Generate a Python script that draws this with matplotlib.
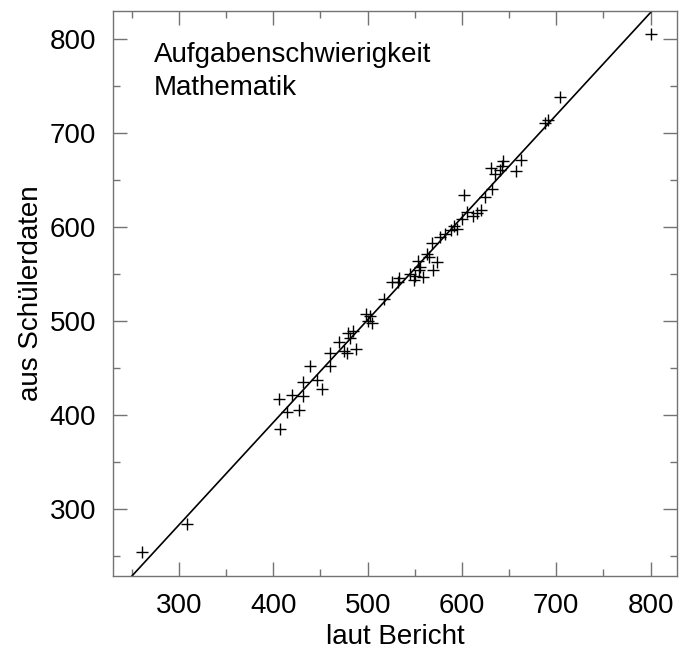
"""Aufgabenschwierigkeit Mathematik: Bericht vs. Schuelerdaten."""

import matplotlib

matplotlib.use("Agg")
import matplotlib.pyplot as plt
import numpy as np
from matplotlib.ticker import MultipleLocator

plt.rcParams["font.family"] = ["Liberation Sans", "DejaVu Sans"]

# item difficulty as reported (x) and as re-estimated from student data (y)
laut_bericht = [
    261, 309, 406, 407, 414, 420, 427, 432, 431, 439, 446, 452, 460, 460,
    470, 475, 478, 488, 479, 484, 481, 498, 500, 503, 505, 517, 526, 533,
    532, 545, 549, 550, 555, 553, 559, 556, 563, 565, 569, 574, 568, 577,
    582, 588, 592, 595, 600, 602, 605, 612, 616, 620, 624, 632, 635, 631,
    640, 644, 642, 657, 663, 688, 691, 704, 801,
]
aus_schuelerdaten = [
    255, 284, 417, 385, 403, 421, 405, 420, 435, 452, 437, 428, 452, 466,
    478, 468, 466, 470, 487, 489, 482, 508, 500, 505, 498, 523, 541, 546,
    541, 550, 544, 548, 554, 564, 547, 557, 571, 568, 554, 563, 583, 589,
    593, 597, 601, 598, 608, 634, 616, 612, 615, 618, 632, 640, 656, 663,
    661, 670, 665, 659, 671, 711, 714, 738, 805,
]

# fitted regression line
slope = 1.089
intercept = -43.3
line_x = [250, 801]

fig = plt.figure(figsize=(6.79, 6.50), dpi=100)
ax = fig.add_axes([0.1664, 0.1138, 0.8306, 0.8700])

ax.plot(laut_bericht, aus_schuelerdaten, "+", color="black", ms=8.5, mew=1.0)
lx = np.array(line_x, dtype=float)
ax.plot(lx, slope * lx + intercept, color="black", lw=1.2)

ax.set_xlim(230, 828)
ax.set_ylim(229, 830)
ax.xaxis.set_major_locator(MultipleLocator(100))
ax.yaxis.set_major_locator(MultipleLocator(100))
ax.xaxis.set_minor_locator(MultipleLocator(50))
ax.yaxis.set_minor_locator(MultipleLocator(50))
ax.tick_params(which="both", direction="in", top=True, right=True,
               color="0.45", width=1.0, labelsize=20, pad=12)
ax.tick_params(which="major", length=10)
ax.tick_params(which="minor", length=5)
for sp in ax.spines.values():
    sp.set_color("0.45")
    sp.set_linewidth(1.0)

ax.set_xlabel("laut Bericht", fontsize=20, labelpad=4)
ax.set_ylabel("aus Schülerdaten", fontsize=20, labelpad=4)

ax.text(0.073, 0.945, "Aufgabenschwierigkeit\nMathematik", transform=ax.transAxes,
        fontsize=20, va="top", ha="left", linespacing=1.35)

fig.savefig("out.png", dpi=100)
plt.close(fig)
